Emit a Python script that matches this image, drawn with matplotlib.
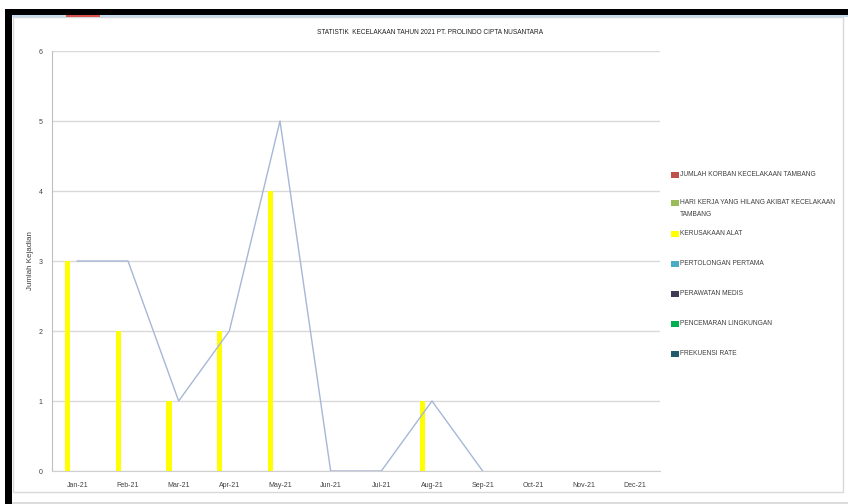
import matplotlib
matplotlib.use("Agg")
import matplotlib.pyplot as plt
from matplotlib.patches import Rectangle
import numpy as np

plt.rcParams['font.family'] = ['Liberation Sans', 'DejaVu Sans']

months = ["Jan-21", "Feb-21", "Mar-21", "Apr-21", "May-21", "Jun-21",
          "Jul-21", "Aug-21", "Sep-21", "Oct-21", "Nov-21", "Dec-21"]
kerusakaan_alat = [3, 2, 1, 2, 4, 0, 0, 1, 0, 0, 0, 0]
trend_values = [3, 3, 1, 2, 5, 0, 0, 1, 0]

series_names = [
    "JUMLAH KORBAN KECELAKAAN TAMBANG",
    "HARI KERJA YANG HILANG AKIBAT KECELAKAAN\nTAMBANG",
    "KERUSAKAAN ALAT",
    "PERTOLONGAN PERTAMA",
    "PERAWATAN MEDIS",
    "PENCEMARAN LINGKUNGAN",
    "FREKUENSI RATE",
]
series_colors = ["#c0504d", "#9bbb59", "#ffff00", "#4bacc6",
                 "#403a55", "#00b050", "#215a6a"]

title = "STATISTIK  KECELAKAAN TAHUN 2021 PT. PROLINDO CIPTA NUSANTARA"
y_label = "Jumlah Kejadian"

W, H = 848, 504
fig = plt.figure(figsize=(W / 100, H / 100), dpi=100)
fig.patch.set_facecolor("white")

def px_rect(x0, y0, x1, y1, z=-5, **kw):
    fig.patches.append(Rectangle((x0 / W, 1 - y1 / H), (x1 - x0) / W, (y1 - y0) / H,
                                 transform=fig.transFigure, zorder=z, **kw))

# window frame around the chart object
px_rect(13, 17, 843, 492, z=-10, facecolor="white", edgecolor="#d9d9d9", linewidth=1)
px_rect(5, 9, 848, 15, facecolor="black", edgecolor="none")
px_rect(12, 15, 848, 17, facecolor="#c6d9f0", edgecolor="none")
px_rect(66, 15, 100, 17, facecolor="#d9534f", edgecolor="none")
px_rect(5, 9, 12, 504, facecolor="black", edgecolor="none")
px_rect(12, 502, 848, 504, facecolor="#dcdcdc", edgecolor="none")

ax = fig.add_axes([52 / W, 1 - 471 / H, (660 - 52) / W, (471 - 51) / H])
ax.set_facecolor("none")
x = np.arange(len(months))

ax.bar(x - 0.19, kerusakaan_alat, width=0.11, color=series_colors[2], zorder=3)
ax.plot(np.arange(len(trend_values)), trend_values, color="#a7b7d6",
        linewidth=1.0, zorder=4)

ax.set_xlim(-0.5, len(months) - 0.5)
ax.set_ylim(0, 6)
ax.set_yticks(range(0, 7))
ax.set_xticks(x)
ax.set_xticklabels(months)
ax.tick_params(axis="both", length=0, labelsize=5, labelcolor="#404040")
ax.tick_params(axis="x", pad=8)
ax.tick_params(axis="y", pad=7)
ax.grid(axis="y", color="#d9d9d9", linewidth=1.0, zorder=0)
ax.set_axisbelow(True)
for side in ("top", "right"):
    ax.spines[side].set_visible(False)
ax.spines["left"].set_color("#bfbfbf")
ax.spines["bottom"].set_color("#d0d0d0")
ax.set_ylabel(y_label, fontsize=5.8, color="#404040", labelpad=3)

fig.text(430 / W, 1 - 32 / H, title, ha="center", va="center",
         fontsize=4.7, color="#202020")

# legend on the right
legend_rows = [175, 203, 234, 264, 294, 324, 354]
for name, color, yr in zip(series_names, series_colors, legend_rows):
    px_rect(671, yr - 3, 679, yr + 3, z=2, facecolor=color, edgecolor="none")
    fig.text(680 / W, 1 - (yr - 4) / H, name, ha="left", va="top",
             fontsize=4.8, color="#404040", linespacing=2.1)

fig.savefig("out.png", dpi=100, facecolor="white")
